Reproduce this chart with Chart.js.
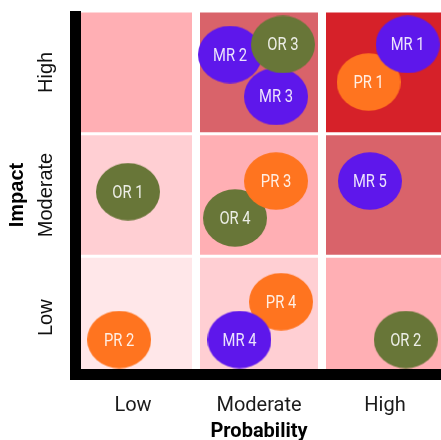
<!DOCTYPE html>
<html>
<head>
<meta charset="utf-8">
<script src="https://cdn.jsdelivr.net/npm/chart.js@4.4.0/dist/chart.umd.min.js"></script>
<style>
  html, body { margin: 0; padding: 0; background: #fff; overflow: hidden; }
  #wrap { width: 441px; height: 440px; overflow: hidden; position: relative; }
  canvas { display: block; }
</style>
</head>
<body>
<div id="wrap"><canvas id="matrix" width="452" height="440"></canvas></div>
<script>
// Axis categories (shared by probability and impact)
const levels = ['Low', 'Moderate', 'High'];

// Risk score of each cell, one array per impact row, ordered by probability
const scoreImpactLow = [1, 2, 3];
const scoreImpactModerate = [2, 3, 4];
const scoreImpactHigh = [3, 4, 5];

// Individual risks (drawing order: later ones sit on top)
const riskNames = ['MR 2', 'MR 3', 'OR 3', 'PR 1', 'MR 1', 'OR 1', 'OR 4', 'PR 3', 'MR 5', 'PR 2', 'PR 4', 'MR 4', 'OR 2'];
const riskGroup = ['MR', 'MR', 'OR', 'PR', 'MR', 'OR', 'OR', 'PR', 'MR', 'PR', 'PR', 'MR', 'OR'];
const riskProbability = [1.27, 1.635, 1.69, 2.37, 2.68, 0.46, 1.31, 1.635, 2.38, 0.39, 1.675, 1.345, 2.665];
const riskImpact = [2.645, 2.303, 2.727, 2.421, 2.727, 1.527, 1.3125, 1.614, 1.614, 0.322, 0.63, 0.322, 0.322];

// Styling
const scoreColors = ['#FFE7E9', '#FFCFD3', '#FFAFB4', '#D9636A', '#D62129'];
const groupColors = { MR: '#5E17EB', OR: '#687638', PR: '#FF741F' };
const BUBBLE_W = 64, BUBBLE_H = 58;
const CELL_GAP = 0.012;
const AXIS_W = 11;

// Oval marker sprites, one per risk group
const sprites = {};
Object.keys(groupColors).forEach(g => {
  const c = document.createElement('canvas');
  c.width = BUBBLE_W; c.height = BUBBLE_H;
  const cx = c.getContext('2d');
  cx.fillStyle = groupColors[g];
  cx.beginPath();
  cx.ellipse(BUBBLE_W / 2, BUBBLE_H / 2, BUBBLE_W / 2, BUBBLE_H / 2 - 0.25, 0, 0, Math.PI * 2);
  cx.fill();
  sprites[g] = c;
});

const rowScores = [scoreImpactLow, scoreImpactModerate, scoreImpactHigh];
const cellDatasets = rowScores.map((scores, row) => ({
  type: 'bar',
  xAxisID: 'xc',
  yAxisID: 'y',
  data: levels.map(p => ({ x: p, y: [row + CELL_GAP, row + 1 - CELL_GAP] })),
  backgroundColor: scores.map(s => scoreColors[s - 1]),
  borderWidth: 0,
  grouped: false,
  barPercentage: 118 / 126,
  categoryPercentage: 1,
  order: 10
}));

const riskDataset = {
  type: 'bubble',
  xAxisID: 'x',
  yAxisID: 'y',
  data: riskNames.map((n, i) => ({ x: riskProbability[i], y: riskImpact[i] })),
  radius: 30,
  hoverRadius: 0,
  pointStyle: ctx => sprites[riskGroup[ctx.dataIndex]],
  backgroundColor: riskGroup.map(g => groupColors[g]),
  borderWidth: 0,
  order: 0
};

// Thick axis lines plus the text inside each risk oval
const overlay = {
  id: 'overlay',
  afterDatasetsDraw(chart) {
    const { ctx, chartArea: a } = chart;
    ctx.save();
    ctx.fillStyle = '#000';
    ctx.fillRect(a.left, a.top, AXIS_W, a.bottom + 1 - a.top);
    ctx.fillRect(a.left, a.bottom - AXIS_W + 1, a.right - a.left, AXIS_W);

    const meta = chart.getDatasetMeta(chart.data.datasets.length - 1);
    ctx.fillStyle = 'rgba(255,255,255,0.88)';
    ctx.font = '18px Roboto';
    ctx.textAlign = 'center';
    ctx.textBaseline = 'middle';
    meta.data.forEach((el, i) => {
      ctx.save();
      ctx.translate(el.x, el.y + 1.5);
      ctx.scale(0.82, 1);
      ctx.fillText(riskNames[i], 0, 0);
      ctx.restore();
    });
    ctx.restore();
  }
};

function fixBox(s, w, h) {
  if (w !== undefined) s.width = w;
  if (h !== undefined) s.height = h;
  s.paddingTop = 0; s.paddingBottom = 0; s.paddingLeft = 0; s.paddingRight = 0;
}

function draw() {
  new Chart(document.getElementById('matrix'), {
    type: 'bar',
    data: { datasets: [...cellDatasets, riskDataset] },
    options: {
      responsive: false,
      animation: false,
      events: [],
      layout: { autoPadding: false, padding: { top: 11, right: 4, left: 0, bottom: 0 } },
      plugins: { legend: { display: false }, tooltip: { enabled: false } },
      scales: {
        xc: {
          type: 'category',
          labels: levels,
          position: 'bottom',
          offset: true,
          grid: { display: false },
          border: { display: false },
          ticks: { font: { family: 'Roboto', size: 20 }, color: '#1b1b1b', padding: 7, maxRotation: 0 },
          title: {
            display: true, text: 'Probability', color: '#000',
            font: { family: 'Roboto', size: 20, weight: 'bold', lineHeight: 0.8 },
            padding: { top: 0, bottom: 0 }
          },
          afterFit(s) { fixBox(s, undefined, 61); }
        },
        x: { type: 'linear', min: 0, max: 3, offset: false, display: false },
        y: {
          type: 'linear',
          min: 0, max: 3,
          position: 'left',
          grid: { display: false },
          border: { display: false },
          afterBuildTicks(s) { s.ticks = [0.5, 1.5, 2.5].map(v => ({ value: v })); },
          ticks: {
            callback: v => levels[Math.floor(v)],
            minRotation: 90, maxRotation: 90,
            crossAlign: 'center',
            padding: -27,
            font: { family: 'Liberation Sans', size: 20 },
            color: '#111'
          },
          title: {
            display: true, text: 'Impact', color: '#000',
            font: { family: 'Liberation Sans', size: 20, weight: 'bold', lineHeight: 1 },
            padding: { top: 7, bottom: 0 }
          },
          afterFit(s) { fixBox(s, 70, undefined); }
        }
      }
    },
    plugins: [overlay]
  });
}

Promise.all([
  document.fonts.load('20px Roboto'),
  document.fonts.load('bold 20px Roboto'),
  document.fonts.load('20px "Liberation Sans"'),
  document.fonts.load('bold 20px "Liberation Sans"')
]).then(draw, draw);
</script>
</body>
</html>
